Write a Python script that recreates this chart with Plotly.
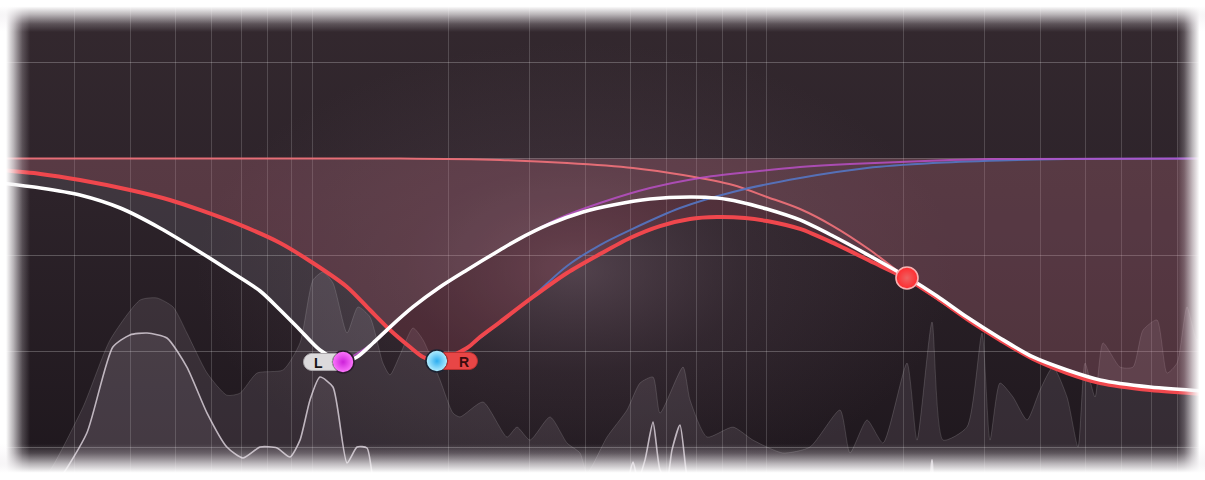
import base64
import math
import plotly.graph_objects as go

# ---------------- axes (frequency in Hz, gain in dB) ----------------
freq_range = [20.62, 9176]
gain_range = [-19.99, 9.855]
grid_freqs = [30, 40, 50, 60, 70, 80, 90, 100, 200, 300, 400, 500, 600, 700, 800, 900,
              1000, 2000, 3000, 4000, 5000, 6000, 7000, 8000, 9000]
grid_gains = [6, 0, -6, -12, -18]

# ---------------- total EQ curves ----------------
left_freq = [20.6, 25.3, 30.9, 37.9, 46.3, 56.7, 67.0, 76.9, 85.1, 94.1, 104.1, 117.0, 125.6,
             136.2, 148.4, 166.7, 191.1, 219.1, 258.9, 282.2, 333.5, 394.1, 458.7, 553.2,
             677.3, 776.5, 872.3, 1000, 1182, 1397, 1684, 2031, 2364, 2751, 3251, 3843,
             4564, 5395, 6947, 9176]
left_gain = [-1.52, -1.83, -2.27, -3.08, -4.32, -5.81, -7.12, -8.24, -9.42, -10.66, -11.91,
             -12.65, -12.34, -11.47, -10.48, -9.23, -7.99, -6.93, -5.69, -5.07, -4.07, -3.33,
             -2.89, -2.52, -2.39, -2.46, -2.70, -3.14, -3.82, -4.82, -6.06, -7.37, -8.55,
             -9.86, -11.16, -12.34, -13.15, -13.77, -14.21, -14.46]

right_freq = [20.6, 25.3, 30.9, 39.8, 48.7, 56.7, 69.5, 85.1, 100.5, 119.4, 134.1, 148.4,
              164.2, 175.4, 188.2, 219.1, 234.0, 258.9, 306.0, 363.5, 429.5, 500, 581.9,
              677.3, 776.5, 894.7, 1000, 1182, 1397, 1684, 2031, 2364, 2751, 3251, 3843,
              4564, 5395, 6947, 9176]
right_gain = [-0.72, -0.96, -1.34, -1.96, -2.58, -3.20, -4.13, -5.25, -6.50, -7.99, -9.42,
              -10.66, -11.72, -12.34, -12.59, -11.78, -11.10, -10.17, -8.61, -7.12, -5.94,
              -4.94, -4.20, -3.76, -3.64, -3.70, -3.89, -4.38, -5.25, -6.37, -7.49, -8.67,
              -9.98, -11.28, -12.47, -13.34, -13.96, -14.40, -14.65]

# ---------------- individual band curves ----------------
band3_freq = [20.6, 156.1, 258.9, 363.5, 507.6, 653.7, 841.9, 1000, 1182, 1397, 1684, 2031,
              2751, 3843, 5395, 9176]
band3_gain = [0.0, 0.0, -0.09, -0.28, -0.59, -1.03, -1.65, -2.39, -3.14, -4.20, -5.69, -7.43,
              -9.98, -12.47, -13.96, -14.65]

band1_freq = [117.0, 136.2, 166.7, 219.1, 258.9, 317.0, 350.9, 429.5, 553.2, 712.5, 917.6,
              1182, 1522, 1960, 2525, 3251, 9176]
band1_gain = [-12.65, -11.47, -9.23, -6.93, -5.69, -4.32, -3.70, -2.77, -1.84, -1.21, -0.84,
              -0.53, -0.34, -0.22, -0.09, -0.03, 0.0]

band2_freq = [188.2, 219.1, 258.9, 306.0, 363.5, 429.5, 500, 643.9, 841.9, 1182, 1659, 2316,
              3251, 4564, 9176]
band2_gain = [-12.59, -11.78, -10.17, -8.55, -6.68, -5.38, -4.45, -3.08, -2.08, -1.21, -0.59,
              -0.28, -0.12, -0.03, 0.0]

# ---------------- band nodes ----------------
node_freq = [117.0, 188.2, 2031]
node_gain = [-12.65, -12.59, -7.43]
node_labels = ["L", "R", ""]

# ---------------- spectrum analyser ----------------
spec_peak_freq = [25.3, 26.6, 31.4, 36.0, 41.9, 45.6, 49.5, 53.1, 58.8, 65.0, 69.5, 75.7, 86.4,
                  94.1, 100.5, 105.7, 111.2, 119.4, 126.2, 134.1, 143.2, 148.4, 156.1, 166.7,
                  175.4, 191.1, 204.1, 211.5, 237.6, 268.3, 282.2, 301.4, 333.5, 363.5, 388.2,
                  402.2, 445.0, 492.4, 525.9, 561.7, 581.9, 653.7, 677.3, 738.2, 841.9, 931.6,
                  1084, 1243, 1447, 1522, 1659, 1799, 2031, 2136, 2305, 2437, 2751, 2968, 3091,
                  3251, 3473, 3728, 3981, 4252, 4564, 4826, 5000, 5260, 5477, 5968, 6374, 6705,
                  7197, 7571, 7964, 8377, 8811, 9176]
spec_peak_gain = [-19.99, -19.37, -15.45, -11.28, -8.80, -8.67, -9.23, -10.85, -13.34, -14.72,
                  -14.59, -13.34, -13.15, -11.47, -7.56, -7.06, -7.74, -10.85, -9.23, -9.86,
                  -12.72, -13.46, -12.22, -10.54, -11.28, -13.77, -15.83, -16.07, -15.14, -17.32,
                  -16.70, -17.51, -16.07, -17.69, -18.31, -19.56, -17.32, -15.64, -13.96, -13.59,
                  -15.83, -12.97, -15.01, -17.32, -16.70, -17.51, -18.31, -17.94, -15.64, -18.31,
                  -16.26, -17.69, -12.72, -17.51, -10.17, -17.51, -16.70, -10.85, -17.51, -13.96,
                  -14.83, -16.26, -14.40, -12.97, -14.83, -17.94, -12.72, -14.83, -11.47, -12.97,
                  -12.97, -10.67, -10.04, -13.34, -12.72, -9.23, -11.28, -10.67]

spec_freq = [27.2, 27.9, 32.0, 36.5, 39.8, 43.4, 48.0, 53.1, 58.8, 65.0, 70.5, 76.9, 83.8, 89.5,
             94.1, 99.0, 104.1, 111.2, 119.4, 125.6, 132.1, 136.2, 141.1, 475.3, 494.9, 507.6,
             520.6, 539.4, 561.7, 581.9, 602.9, 618.3, 643.9, 663.8, 684.2, 2225, 2305, 2376, 9176]
spec_gain = [-19.99, -19.87, -17.07, -11.72, -10.97, -10.85, -11.16, -12.97, -15.83, -17.94,
             -18.62, -17.94, -18.00, -18.56, -17.51, -15.01, -13.59, -14.21, -18.93, -17.94,
             -18.00, -19.99, -21.23, -21.23, -19.99, -18.87, -19.99, -18.74, -16.39, -19.37,
             -19.99, -18.12, -16.57, -19.37, -21.23, -21.23, -18.74, -21.23, -21.23]
spec_floor = -25.0


def svg_uri(svg):
    return "data:image/svg+xml;base64," + base64.b64encode(svg.encode("utf-8")).decode("ascii")


W, H = 1205, 480

bg_svg = f"""<svg xmlns='http://www.w3.org/2000/svg' width='{W}' height='{H}' viewBox='0 0 {W} {H}' preserveAspectRatio='none'>
<defs>
<linearGradient id='v' x1='0' y1='0' x2='0' y2='1'>
<stop offset='0' stop-color='#34292f'/>
<stop offset='0.4' stop-color='#2d232a'/>
<stop offset='1' stop-color='#1e171d'/>
</linearGradient>
<radialGradient id='g' cx='575' cy='270' r='380' gradientUnits='userSpaceOnUse'
 gradientTransform='translate(575 270) scale(1 0.6) translate(-575 -270)'>
<stop offset='0' stop-color='#8c7282' stop-opacity='0.42'/>
<stop offset='0.45' stop-color='#6c5664' stop-opacity='0.18'/>
<stop offset='1' stop-color='#6c5664' stop-opacity='0'/>
</radialGradient>
</defs>
<rect width='{W}' height='{H}' fill='url(#v)'/>
<rect width='{W}' height='{H}' fill='url(#g)'/>
</svg>"""

vig_stops = ("<stop offset='0' stop-color='#fff' stop-opacity='1'/>"
             "<stop offset='0.2' stop-color='#fff' stop-opacity='1'/>"
             "<stop offset='0.45' stop-color='#f4f2f4' stop-opacity='0.7'/>"
             "<stop offset='0.75' stop-color='#eeeaee' stop-opacity='0.22'/>"
             "<stop offset='1' stop-color='#eeeaee' stop-opacity='0'/>")
vig_svg = f"""<svg xmlns='http://www.w3.org/2000/svg' width='{W}' height='{H}' viewBox='0 0 {W} {H}' preserveAspectRatio='none'>
<defs>
<linearGradient id='l' x1='0' y1='0' x2='1' y2='0'>{vig_stops}</linearGradient>
<linearGradient id='r' x1='1' y1='0' x2='0' y2='0'>{vig_stops}</linearGradient>
<linearGradient id='t' x1='0' y1='0' x2='0' y2='1'>{vig_stops}</linearGradient>
<linearGradient id='b' x1='0' y1='1' x2='0' y2='0'>{vig_stops}</linearGradient>
</defs>
<rect x='0' y='0' width='30' height='{H}' fill='url(#l)'/>
<rect x='{W-28}' y='0' width='28' height='{H}' fill='url(#r)'/>
<rect x='0' y='0' width='{W}' height='32' fill='url(#t)'/>
<rect x='0' y='{H-36}' width='{W}' height='36' fill='url(#b)'/>
</svg>"""

fig = go.Figure()


def add(**kw):
    kw.setdefault("hoverinfo", "skip")
    kw.setdefault("showlegend", False)
    fig.add_trace(go.Scatter(**kw))


# spectrum (peak hold, translucent)
add(x=[spec_peak_freq[0], spec_peak_freq[-1]], y=[spec_floor, spec_floor], mode="lines",
    line=dict(width=0))
add(x=spec_peak_freq, y=spec_peak_gain, mode="lines", fill="tonexty",
    fillcolor="rgba(205,190,205,0.12)",
    line=dict(color="rgba(255,255,255,0.14)", width=1, shape="spline", smoothing=0.6))
# spectrum (current)
add(x=[spec_freq[0], spec_freq[-1]], y=[spec_floor, spec_floor], mode="lines", line=dict(width=0))
add(x=spec_freq, y=spec_gain, mode="lines", fill="tonexty",
    fillcolor="rgba(205,190,205,0.10)",
    line=dict(color="rgba(235,225,235,0.75)", width=1.6, shape="spline", smoothing=0.6))

# EQ fills
add(x=[left_freq[0], left_freq[-1]], y=[0, 0], mode="lines", line=dict(width=0))
add(x=left_freq, y=left_gain, mode="lines", fill="tonexty",
    fillcolor="rgba(200,195,210,0.12)", line=dict(width=0, shape="spline", smoothing=0.8))
add(x=[right_freq[0], right_freq[-1]], y=[0, 0], mode="lines", line=dict(width=0))
add(x=right_freq, y=right_gain, mode="lines", fill="tonexty",
    fillcolor="rgba(200,70,95,0.18)", line=dict(width=0, shape="spline", smoothing=0.8))

# band curves
add(x=band3_freq, y=band3_gain, mode="lines",
    line=dict(color="rgba(235,112,120,0.95)", width=2, shape="spline", smoothing=0.8))
add(x=band2_freq, y=band2_gain, mode="lines",
    line=dict(color="rgba(85,115,190,0.95)", width=2, shape="spline", smoothing=0.8))
add(x=band1_freq, y=band1_gain, mode="lines",
    line=dict(color="rgba(190,80,205,0.8)", width=2, shape="spline", smoothing=0.8))

# total curves
add(x=right_freq, y=right_gain, mode="lines",
    line=dict(color="#f0474d", width=4, shape="spline", smoothing=0.8))
add(x=left_freq, y=left_gain, mode="lines",
    line=dict(color="#ffffff", width=3.6, shape="spline", smoothing=0.8))

# nodes
add(x=node_freq, y=node_gain, mode="markers",
    marker=dict(size=22,
                color=["#ff7aff", "#b8f0ff", "#ff2a2e"],
                gradient=dict(type="radial", color=["#cc22d8", "#2eaef0", "#ee6262"]),
                line=dict(color=["#2a1a2c", "#1a2232", "#f6b2b2"], width=1.6)))

# label pills
pill_l = ("M -31,8.5 L -6.6,8.5 Q -15.2,0 -6.6,-8.5 L -31,-8.5 "
          "C -35.7,-8.5 -39.5,-4.7 -39.5,0 C -39.5,4.7 -35.7,8.5 -31,8.5 Z")
pill_r = ("M 32,8.5 L 6.6,8.5 Q 15.2,0 6.6,-8.5 L 32,-8.5 "
          "C 36.7,-8.5 40.5,-4.7 40.5,0 C 40.5,4.7 36.7,8.5 32,8.5 Z")
shapes = [
    dict(type="path", path=pill_l, xref="x", yref="y", xsizemode="pixel", ysizemode="pixel",
         xanchor=node_freq[0], yanchor=node_gain[0], fillcolor="#dcdadc",
         line=dict(color="#a8a4a8", width=1), layer="above"),
    dict(type="path", path=pill_r, xref="x", yref="y", xsizemode="pixel", ysizemode="pixel",
         xanchor=node_freq[1], yanchor=node_gain[1], fillcolor="#e84646",
         line=dict(color="#b83030", width=1), layer="above"),
]

annotations = [
    dict(x=math.log10(node_freq[0]), y=node_gain[0], xref="x", yref="y", text="<b>L</b>",
         showarrow=False, xshift=-25, yshift=-1,
         font=dict(family="Liberation Sans, Arial, sans-serif", size=14, color="#161416")),
    dict(x=math.log10(node_freq[1]), y=node_gain[1], xref="x", yref="y", text="<b>R</b>",
         showarrow=False, xshift=27, yshift=-1,
         font=dict(family="Liberation Sans, Arial, sans-serif", size=14, color="#3a0c0e")),
]

fig.update_layout(
    width=W, height=H,
    margin=dict(l=0, r=0, t=0, b=0),
    paper_bgcolor="#ffffff",
    plot_bgcolor="rgba(0,0,0,0)",
    showlegend=False,
    hovermode=False,
    shapes=shapes,
    annotations=annotations,
    images=[
        dict(source=svg_uri(bg_svg), xref="paper", yref="paper", x=0, y=1, sizex=1, sizey=1,
             xanchor="left", yanchor="top", sizing="stretch", layer="below"),
        dict(source=svg_uri(vig_svg), xref="paper", yref="paper", x=0, y=1, sizex=1, sizey=1,
             xanchor="left", yanchor="top", sizing="stretch", layer="above"),
    ],
    xaxis=dict(type="log", range=[math.log10(freq_range[0]), math.log10(freq_range[1])],
               tickvals=grid_freqs, showticklabels=False, ticks="", showgrid=True,
               gridcolor="rgba(255,255,255,0.17)", gridwidth=1, zeroline=False,
               showline=False, fixedrange=True),
    yaxis=dict(range=gain_range, tickvals=grid_gains, showticklabels=False, ticks="",
               showgrid=True, gridcolor="rgba(255,255,255,0.24)", gridwidth=1,
               zeroline=False, showline=False, fixedrange=True),
)

fig.write_html("out.html", config={"displayModeBar": False},
               post_script="document.body.style.margin='0px';document.body.style.overflow='hidden';")
